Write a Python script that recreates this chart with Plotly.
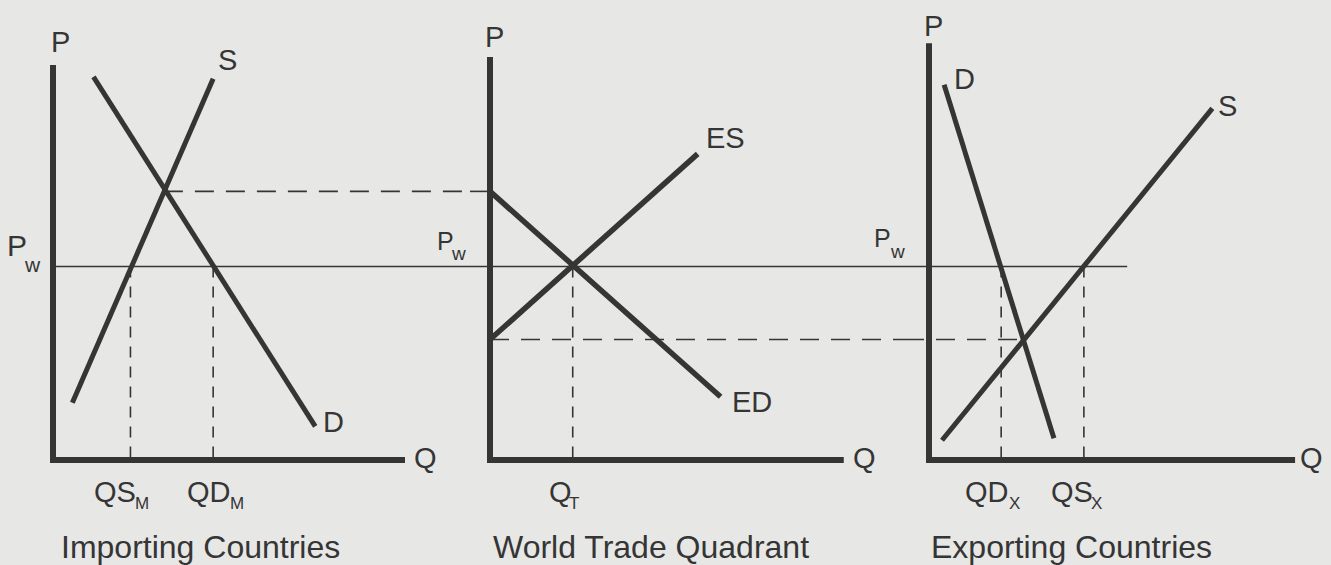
import plotly.graph_objects as go

# values, in price (P) and quantity (Q) units
P_WORLD = 4.9          # Pw, the world price
P_IMPORT_AUTARKY = 6.8  # price in importing countries without trade
P_EXPORT_AUTARKY = 3.05  # price in exporting countries without trade

# importing countries
imp_supply_q = [0.55, 4.55]
imp_supply_p = [1.45, 9.65]
imp_demand_q = [1.15, 7.45]
imp_demand_p = [9.7, 0.85]
imp_qs = 2.2    # QS_M
imp_qd = 4.55   # QD_M
imp_autarky_q = 3.15

# world trade quadrant
wt_es_q = [0.0, 5.9]
wt_es_p = [3.05, 7.75]
wt_ed_q = [0.0, 6.55]
wt_ed_p = [6.8, 1.6]
wt_qt = 2.35    # Q_T

# exporting countries
exp_demand_q = [0.43, 3.55]
exp_demand_p = [9.5, 0.55]
exp_supply_q = [0.37, 8.05]
exp_supply_p = [0.5, 8.9]
exp_qd = 2.05   # QD_X
exp_qs = 4.4    # QS_X
exp_autarky_q = 2.67
exp_pw_end_q = 5.63

# axis lengths per panel (Q max, P max)
axis_len = [(10.0, 10.0), (10.05, 10.2), (10.4, 10.55)]

titles = ["Importing Countries", "World Trade Quadrant", "Exporting Countries"]

# ---- layout geometry (pixels) ----
W, H = 1331, 565
PX_PER_Q = 35.2
PX_PER_P = 39.5
ORIGIN_Y = 460
origin_x = [53, 490, 929]
edges = [0, 470, 905, W]

INK = "#353535"
BG = "#e7e7e5"
FONT = "Liberation Sans, Arial, sans-serif"

xranges = []
for i in range(3):
    xranges.append([(edges[i] - origin_x[i]) / PX_PER_Q,
                    (edges[i + 1] - origin_x[i]) / PX_PER_Q])
yrange = [-(H - ORIGIN_Y) / PX_PER_P, ORIGIN_Y / PX_PER_P]

fig = go.Figure()
xa = ["x", "x2", "x3"]


def line(panel, qs, ps, width, dash="solid"):
    fig.add_trace(go.Scatter(
        x=qs, y=ps, mode="lines", xaxis=xa[panel], yaxis="y",
        line=dict(color=INK, width=width, dash=dash),
        hoverinfo="skip", showlegend=False,
    ))


H_DASH = "19px,12px"
V_DASH = "11px,9px"

# world price line running through all three panels
line(0, [0, xranges[0][1]], [P_WORLD, P_WORLD], 1.6)
line(1, xranges[1], [P_WORLD, P_WORLD], 1.6)
line(2, [xranges[2][0], exp_pw_end_q], [P_WORLD, P_WORLD], 1.6)

# autarky price dashes
line(0, [imp_autarky_q, xranges[0][1]], [P_IMPORT_AUTARKY] * 2, 1.6, H_DASH)
line(1, [xranges[1][0], 0], [P_IMPORT_AUTARKY] * 2, 1.6, H_DASH)
line(1, [0, xranges[1][1]], [P_EXPORT_AUTARKY] * 2, 1.6, H_DASH)
line(2, [xranges[2][0], exp_autarky_q], [P_EXPORT_AUTARKY] * 2, 1.6, H_DASH)

# quantity drop lines
for panel, q in [(0, imp_qs), (0, imp_qd), (1, wt_qt), (2, exp_qd), (2, exp_qs)]:
    line(panel, [q, q], [P_WORLD, 0], 1.6, V_DASH)

# supply and demand curves
line(0, imp_supply_q, imp_supply_p, 5)
line(0, imp_demand_q, imp_demand_p, 5)
line(1, wt_es_q, wt_es_p, 5.5)
line(1, wt_ed_q, wt_ed_p, 5.5)
line(2, exp_demand_q, exp_demand_p, 5)
line(2, exp_supply_q, exp_supply_p, 5)

# the P and Q axes of each panel
for i, (qmax, pmax) in enumerate(axis_len):
    line(i, [0, 0, qmax], [pmax, 0, 0], 6)


def label(panel, q, p, text, size=29):
    fig.add_annotation(x=q, y=p, xref=xa[panel], yref="y", text=text,
                       showarrow=False, font=dict(family=FONT, size=size, color=INK))


def sub_label(panel, q, p, main, small, sq, sp, size=29, small_size=17):
    # subscripts drawn as their own smaller text, set just below the main letters
    label(panel, q, p, main, size)
    label(panel, sq, sp, small, small_size)


# panel 1
label(0, 0.2, 10.58, "P")
label(0, 4.97, 10.13, "S")
label(0, 7.98, 0.96, "D")
label(0, 10.57, 0.05, "Q")
sub_label(0, -1.02, 5.42, "P", "w", -0.57, 4.96, size=30, small_size=21)
sub_label(0, 1.76, -0.81, "QS", "M", 2.53, -1.1)
sub_label(0, 4.43, -0.81, "QD", "M", 5.22, -1.1)
# panel 2 (its left Pw label sits in the gap, so it hangs off panel 1's axis)
label(1, 0.14, 10.7, "P")
label(1, 6.7, 8.15, "ES")
label(1, 7.44, 1.47, "ED")
label(1, 10.63, 0.05, "Q")
sub_label(0, 11.14, 5.55, "P", "w", 11.53, 5.24, size=25, small_size=19)
sub_label(1, 1.99, -0.81, "Q", "T", 2.38, -1.1)
# panel 3 (Pw label hangs off panel 2's axis)
label(2, 0.14, 11.0, "P")
label(2, 1.02, 9.65, "D")
label(2, 8.49, 8.96, "S")
label(2, 10.88, 0.05, "Q")
sub_label(1, 11.14, 5.62, "P", "w", 11.57, 5.29, size=25, small_size=19)
sub_label(2, 1.65, -0.81, "QD", "X", 2.42, -1.1)
sub_label(2, 4.06, -0.81, "QS", "X", 4.75, -1.1)

title_q = [4.18, 4.57, 4.06]
for i, t in enumerate(titles):
    label(i, title_q[i], -2.2, t, size=32)

hidden = dict(visible=False, fixedrange=True)
layout_axes = {}
for i in range(3):
    name = "xaxis" if i == 0 else "xaxis%d" % (i + 1)
    layout_axes[name] = dict(hidden, range=xranges[i], anchor="y",
                             domain=[edges[i] / W, edges[i + 1] / W])

fig.update_layout(
    width=W, height=H,
    margin=dict(l=0, r=0, t=0, b=0),
    paper_bgcolor=BG, plot_bgcolor=BG,
    yaxis=dict(hidden, range=yrange, domain=[0, 1]),
    hovermode=False,
    **layout_axes,
)

fig.write_html("out.html", config={"displayModeBar": False},
               post_script="document.body.style.margin='0';")
